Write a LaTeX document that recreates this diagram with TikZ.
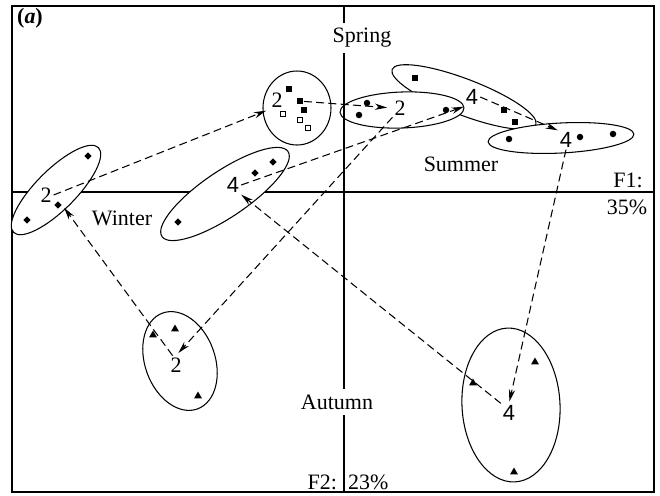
\documentclass[tikz,border=0pt]{standalone}
\usepackage{fontspec}
\setmainfont{Liberation Serif}
\newfontfamily\serienfont{Liberation Sans}
\usetikzlibrary{shapes.geometric,arrows.meta}

\begin{document}
\begin{tikzpicture}[x=0.2mm, y=0.2mm,
        txt/.style={font=\fontsize{12.5}{14}\selectfont, inner sep=1pt},
        nrzwei/.style={txt},
        nrvier/.style={font=\serienfont\fontsize{12.5}{14}\selectfont, inner sep=1pt},
        gruppe/.style={draw, line width=0.6pt, fill=white},
        pfeil/.style={line width=0.6pt, dash pattern=on 4.5pt off 2.5pt,
            -{Stealth[length=7pt,width=3.6pt]}},
        winterpkt/.style={diamond, fill, inner sep=0pt, minimum size=0.15cm},
        fruehpkt/.style={rectangle, fill, inner sep=0pt, minimum size=0.12cm},
        fruehoffen/.style={rectangle, draw, fill=white, line width=0.5pt, inner sep=0pt, minimum size=0.11cm},
        sommerpkt/.style={circle, fill, inner sep=0pt, minimum size=0.13cm},
        herbstpkt/.style={regular polygon, regular polygon sides=3, fill, inner sep=0pt, minimum size=0.18cm}
    ]
    \useasboundingbox (0,0) rectangle (660,495);

    % Rahmen und F1-Achse
    \draw[line width=0.6pt] (12,3) rectangle (654,489);
    \draw[line width=0.6pt] (12,303) -- (654,303);

    % Ellipsen der Gruppen
    \draw[gruppe, rotate around={45:(56,305)}] (56,305) ellipse [x radius=60, y radius=20];
    \draw[gruppe, rotate around={34:(225,301)}] (225,301) ellipse [x radius=76, y radius=23];
    \draw[gruppe] (297,387) ellipse [x radius=34, y radius=37];
    \draw[gruppe, rotate around={-21:(464,398)}] (464,398) ellipse [x radius=77, y radius=18];
    \draw[gruppe, rotate around={2:(402,385)}] (402,385) ellipse [x radius=62, y radius=18];
    \draw[gruppe, rotate around={3:(561,357)}] (561,357) ellipse [x radius=73, y radius=15];
    \draw[gruppe, rotate around={-70:(180,134)}] (180,134) ellipse [x radius=51, y radius=35];
    \draw[gruppe, rotate around={3:(511,90)}] (511,90) ellipse [x radius=49, y radius=77];

    % F2-Achse
    \draw[line width=0.6pt] (344,489) -- (344,3);

    % Beschriftungen
    \node[txt] (teil) at (30,477) {\textbf{(\textit{a})}};
    \node[txt, fill=white, inner sep=3pt] (spring) at (362,457) {Spring};
    \node[txt, fill=white, inner sep=3pt] (autumn) at (337,93) {Autumn};
    \node[txt] (winter) at (122,277) {Winter};
    \node[txt] (summer) at (461,331) {Summer};
    \node[txt] (feins) at (628,315) {F1:};
    \node[txt] (pcteins) at (627,288) {35\%};
    \node[txt, anchor=east] (fzwei) at (339,13) {F2:};
    \node[txt, anchor=west] (pctzwei) at (346,13) {23\%};

    % Messpunkte
    \foreach \x/\y [count=\i] in {88/339, 27/275, 58/290, 273/333, 255/322, 178/273}
        \node[winterpkt] (wi\i) at (\x,\y) {};
    \foreach \x/\y [count=\i] in {289/406, 300/394, 304/385, 415/417, 504/385, 515/373}
        \node[fruehpkt] (fr\i) at (\x,\y) {};
    \foreach \x/\y [count=\i] in {283/381, 300/375, 308/367}
        \node[fruehoffen] (fo\i) at (\x,\y) {};
    \foreach \x/\y [count=\i] in {367/392, 359/380, 446/385, 509/356, 580/358, 613/361}
        \node[sommerpkt] (so\i) at (\x,\y) {};
    \foreach \x/\y [count=\i] in {153/160, 175/166, 198/99, 473/112, 535/133, 514/23}
        \node[herbstpkt] (he\i) at (\x,\y) {};

    % Serien 2 und 4
    \node[nrzwei] (w2) at (46,300) {2};
    \node[nrzwei] (sp2) at (277,395) {2};
    \node[nrzwei] (su2) at (400,387) {2};
    \node[nrzwei] (au2) at (176,130) {2};
    \node[nrvier] (w4) at (233,310) {4};
    \node[nrvier] (sp4) at (472,398) {4};
    \node[nrvier] (su4) at (566,355) {4};
    \node[nrvier] (au4) at (509,82) {4};

    % Pfeile
    \draw[pfeil, shorten >=2pt] (w2.east) -- (sp2.south west);
    \draw[pfeil, shorten <=11pt, shorten >=3pt] (sp2.east) -- (su2.west);
    \draw[pfeil, shorten >=2pt] (su2.south west) -- (au2.north);
    \draw[pfeil, shorten >=2pt] (au2.110) -- (wi3.east);
    \draw[pfeil] (w4.east) -- (sp4.south west);
    \draw[pfeil] (sp4.east) -- (su4.north west);
    \draw[pfeil, shorten >=1pt] (su4.south) -- (au4.north);
    \draw[pfeil] (au4.north west) -- (w4.south east);
\end{tikzpicture}
\end{document}
